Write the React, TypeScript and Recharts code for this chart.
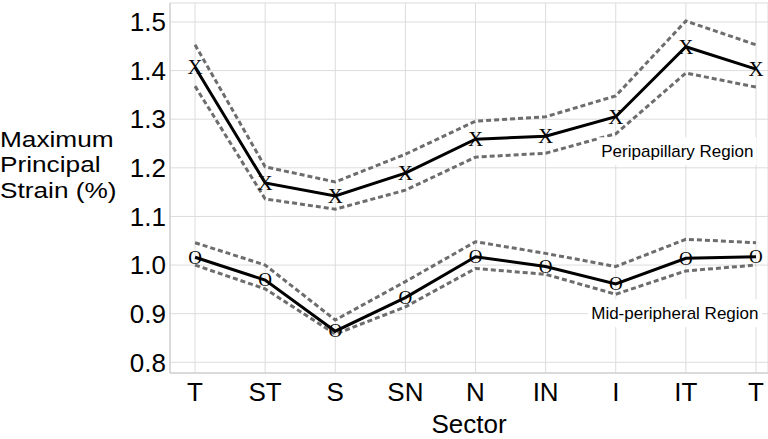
import { CartesianGrid, Line, LineChart, ReferenceDot, XAxis, YAxis } from 'recharts';

const sectors = ['T', 'ST', 'S', 'SN', 'N', 'IN', 'I', 'IT', 'T'];

// peripapillary region (X markers)
const periMean = [1.407, 1.169, 1.142, 1.189, 1.259, 1.265, 1.305, 1.449, 1.403];
const periUpper = [1.453, 1.202, 1.171, 1.228, 1.296, 1.305, 1.348, 1.502, 1.453];
const periLower = [1.368, 1.136, 1.115, 1.154, 1.222, 1.23, 1.27, 1.395, 1.366];

// mid-peripheral region (O markers)
const midMean = [1.016, 0.969, 0.864, 0.933, 1.017, 0.997, 0.961, 1.014, 1.017];
const midUpper = [1.046, 1.0, 0.887, 0.966, 1.048, 1.024, 0.997, 1.053, 1.046];
const midLower = [1.0, 0.951, 0.858, 0.914, 0.993, 0.981, 0.94, 0.988, 1.0];

const yTicks = [0.8, 0.9, 1.0, 1.1, 1.2, 1.3, 1.4, 1.5];
const xTicks = sectors.map((_, i) => i);

const chartData = sectors.map((s, i) => ({
  idx: i,
  sector: s,
  periMean: periMean[i],
  periUpper: periUpper[i],
  periLower: periLower[i],
  midMean: midMean[i],
  midUpper: midUpper[i],
  midLower: midLower[i],
}));

const SANS = '"Liberation Sans", Arial, sans-serif';
const SERIF = '"Liberation Serif", "Times New Roman", serif';
const DASH = '#6d6d6d';

function markerDot(ch: string, size: number) {
  return (p: any) => (
    <text
      key={`${ch}-${p.index}`}
      x={p.cx}
      y={p.cy}
      dy="0.33em"
      textAnchor="middle"
      fontFamily={SERIF}
      fontSize={size}
      fill="#000"
    >
      {ch}
    </text>
  );
}

function regionLabel(text: string, dx: number, w: number) {
  return (p: any) => (
    <g>
      <rect x={p.cx + dx - w / 2} y={p.cy - 14} width={w} height={28} fill="#fff" />
      <text
        x={p.cx + dx}
        y={p.cy}
        dy="0.35em"
        textAnchor="middle"
        fontFamily={SANS}
        fontSize={17}
        fill="#000"
      >
        {text}
      </text>
    </g>
  );
}

function YLabel() {
  const lines = ['Maximum', 'Principal', 'Strain (%)'];
  return (
    <g>
      {lines.map((l, i) => (
        <text
          key={l}
          x={0}
          y={147 + i * 25.5}
          transform="scale(1.22,1)"
          fontFamily={SANS}
          fontSize={21.5}
          fill="#000"
        >
          {l}
        </text>
      ))}
    </g>
  );
}

function XLabel(props: any) {
  const vb = props.viewBox;
  return (
    <text
      x={vb.x + vb.width / 2}
      y={vb.y + 60}
      textAnchor="middle"
      fontFamily={SANS}
      fontSize={26}
      fill="#000"
    >
      Sector
    </text>
  );
}

export default function App() {
  return (
    <div style={{ position: 'absolute', left: 0, top: 0, background: '#fff' }}>
      <LineChart
        width={768}
        height={439}
        data={chartData}
        margin={{ top: 3, right: 0, bottom: 0, left: 0 }}
      >
        <CartesianGrid stroke="#dcdcdc" strokeWidth={1} />
        <XAxis
          dataKey="idx"
          type="number"
          domain={[-25 / 70, 8 + 12 / 70]}
          ticks={xTicks}
          interval={0}
          allowDataOverflow
          height={66}
          tickLine={false}
          tickSize={0}
          tickMargin={10}
          axisLine={{ stroke: '#c8c8c8' }}
          tick={{ fontSize: 26, fill: '#000', fontFamily: SANS }}
          tickFormatter={(v: number) => sectors[v] ?? ''}
          label={<XLabel />}
        />
        <YAxis
          type="number"
          domain={[0.778, 1.539]}
          ticks={yTicks}
          allowDataOverflow
          width={170}
          tickLine={false}
          tickSize={0}
          tickMargin={4}
          axisLine={{ stroke: '#c8c8c8' }}
          tick={{ fontSize: 26, fill: '#000', fontFamily: SANS }}
          tickFormatter={(v: number) => v.toFixed(1)}
          label={<YLabel />}
        />
        <ReferenceDot x={7} y={1.234} r={0} shape={regionLabel('Peripapillary Region', -8.5, 158)} />
        <ReferenceDot x={7} y={0.901} r={0} shape={regionLabel('Mid-peripheral Region', -11, 174)} />
        <Line dataKey="periUpper" stroke={DASH} strokeWidth={3} strokeDasharray="5 3" dot={false} isAnimationActive={false} />
        <Line dataKey="periLower" stroke={DASH} strokeWidth={3} strokeDasharray="5 3" dot={false} isAnimationActive={false} />
        <Line dataKey="midUpper" stroke={DASH} strokeWidth={3} strokeDasharray="5 3" dot={false} isAnimationActive={false} />
        <Line dataKey="midLower" stroke={DASH} strokeWidth={3} strokeDasharray="5 3" dot={false} isAnimationActive={false} />
        <Line dataKey="periMean" stroke="#000" strokeWidth={3} dot={markerDot('X', 21)} activeDot={false} isAnimationActive={false} />
        <Line dataKey="midMean" stroke="#000" strokeWidth={3} dot={markerDot('O', 19)} activeDot={false} isAnimationActive={false} />
      </LineChart>
    </div>
  );
}
